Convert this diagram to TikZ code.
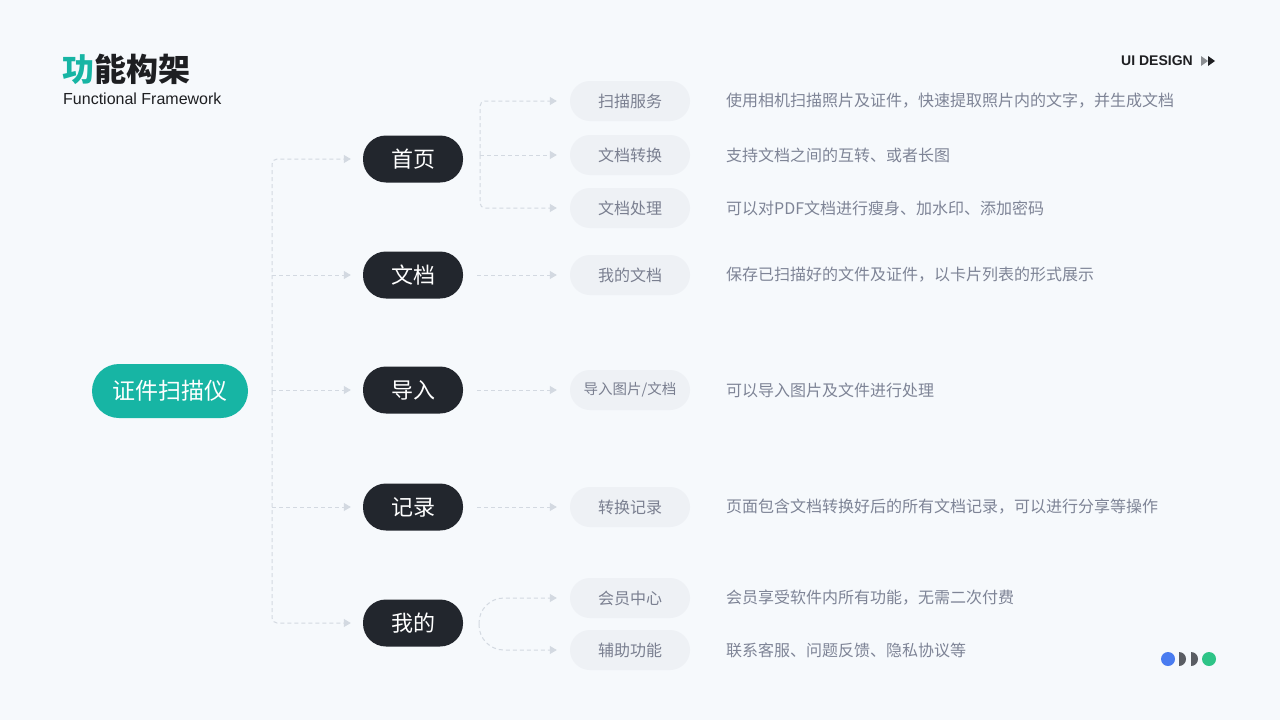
\documentclass[tikz,border=0pt]{standalone}
\usepackage{fontspec}
\setmainfont{Noto Sans CJK SC}
\newfontfamily\latinfont{Liberation Sans}
\usetikzlibrary{arrows.meta}

\definecolor{bg}{HTML}{F6F9FC}
\definecolor{mainteal}{HTML}{17B5A4}
\definecolor{darknode}{HTML}{22262D}
\definecolor{pillgray}{HTML}{EEF1F5}
\definecolor{pilltext}{HTML}{7A7F90}
\definecolor{notetext}{HTML}{7E8496}
\definecolor{linegray}{HTML}{D3D9E1}
\definecolor{titledark}{HTML}{1E1F22}
\definecolor{dotblue}{HTML}{4A7CF0}
\definecolor{dotgray}{HTML}{5A5D63}
\definecolor{dotgreen}{HTML}{2EC487}

\begin{document}
\begin{tikzpicture}[x = 1pt, y = -1pt, > = {Triangle[length = 7pt, width = 8pt]},
    every node/.style = {inner sep = 0pt},
    root/.style = {rounded corners = 27pt, fill = mainteal, text = white, minimum width = 156pt, minimum height = 54pt, font = \fontsize{23}{23}\selectfont},
    page/.style = {rounded corners = 23pt, fill = darknode, text = white, minimum width = 100pt, minimum height = 47pt, font = \fontsize{22}{22}\selectfont},
    item/.style = {rounded corners = 20pt, fill = pillgray, text = pilltext, minimum width = 120pt, minimum height = 40pt, font = \fontsize{16}{16}\selectfont},
    note/.style = {anchor = west, text = notetext, font = \fontsize{16}{16}\selectfont},
    link/.style = {->, draw = linegray, line width = 1pt, dash pattern = on 4pt off 3pt, rounded corners = 5pt, shorten > = 12pt}]
    \fill[bg] (0, 0) rectangle (1280, 720);
    \useasboundingbox (0, 0) rectangle (1280, 720);

    % header
    \node[anchor = west, text = titledark, font = \fontsize{32}{32}\selectfont\bfseries] (title) at (62, 69) {\textcolor{mainteal}{功}能构架};
    \node[anchor = west, text = titledark, font = \latinfont\fontsize{16}{16}\selectfont] (subtitle) at (63, 99) {Functional Framework};
    \node[anchor = west, text = titledark, font = \latinfont\fontsize{14}{14}\selectfont\bfseries] (design) at (1121, 61) {UI DESIGN};
    \fill[dotgray!70] (1201, 56) -- (1208, 61) -- (1201, 66) -- cycle;
    \fill[titledark] (1208, 56) -- (1215, 61) -- (1208, 66) -- cycle;

    % nodes
    \node[root] (root) at (170, 391) {证件扫描仪};
    \node[page] (h1) at (413, 159) {首页};
    \node[page] (h2) at (413, 275) {文档};
    \node[page] (h3) at (413, 390) {导入};
    \node[page] (h4) at (413, 507) {记录};
    \node[page] (h5) at (413, 623) {我的};

    \node[item] (p1) at (630, 101) {扫描服务};
    \node[item] (p2) at (630, 155) {文档转换};
    \node[item] (p3) at (630, 208) {文档处理};
    \node[item] (p4) at (630, 275) {我的文档};
    \node[item, font = \fontsize{14.5}{14.5}\selectfont] (p5) at (630, 390) {导入图片/文档};
    \node[item] (p6) at (630, 507) {转换记录};
    \node[item] (p7) at (630, 598) {会员中心};
    \node[item] (p8) at (630, 650) {辅助功能};

    \node[note] (n1) at (726, 101) {使用相机扫描照片及证件，快速提取照片内的文字，并生成文档};
    \node[note] (n2) at (726, 155) {支持文档之间的互转、或者长图};
    \node[note] (n3) at (726, 208) {可以对PDF文档进行瘦身、加水印、添加密码};
    \node[note] (n4) at (726, 275) {保存已扫描好的文件及证件，以卡片列表的形式展示};
    \node[note] (n5) at (726, 390) {可以导入图片及文件进行处理};
    \node[note] (n6) at (726, 507) {页面包含文档转换好后的所有文档记录，可以进行分享等操作};
    \node[note] (n7) at (726, 598) {会员享受软件内所有功能，无需二次付费};
    \node[note] (n8) at (726, 650) {联系客服、问题反馈、隐私协议等};

    % connectors
    \coordinate (trunk) at (272, 391);
    \coordinate (b1) at (480, 155);
    \coordinate (b5) at (479, 624);
    \draw[link] (trunk) |- (h1);
    \draw[link] (trunk |- h2) -- (h2);
    \draw[link] (trunk |- h3) -- (h3);
    \draw[link] (trunk |- h4) -- (h4);
    \draw[link] (trunk) |- (h5);

    \draw[link, shorten > = 13pt] (b1) |- (p1);
    \draw[link, shorten > = 13pt] (b1) -- (p2);
    \draw[link, shorten > = 13pt] (b1) |- (p3);
    \draw[link, shorten < = 14pt, shorten > = 13pt] (h2) -- (p4);
    \draw[link, shorten < = 14pt, shorten > = 13pt] (h3) -- (p5);
    \draw[link, shorten < = 14pt, shorten > = 13pt] (h4) -- (p6);
    \draw[link, rounded corners = 25pt, shorten > = 13pt] (b5) |- (p7);
    \draw[link, rounded corners = 25pt, shorten > = 13pt] (b5) |- (p8);

    % dots
    \fill[dotblue] (1168, 659) circle[radius = 7];
    \fill[dotgray] (1179, 652) arc[start angle = -90, end angle = 90, radius = 7] -- cycle;
    \fill[dotgray] (1191, 652) arc[start angle = -90, end angle = 90, radius = 7] -- cycle;
    \fill[dotgreen] (1209, 659) circle[radius = 7];
\end{tikzpicture}
\end{document}
